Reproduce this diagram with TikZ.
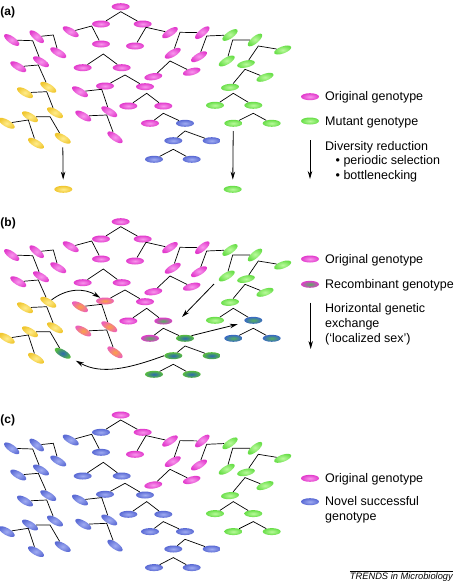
\documentclass[tikz,border=0pt]{standalone}
\usepackage{fontspec}
\setmainfont{Liberation Sans}
\usetikzlibrary{shapes.geometric, arrows.meta}

\definecolor{pinkO}{RGB}{226,58,204}
\definecolor{pinkI}{RGB}{248,150,236}
\definecolor{greenO}{RGB}{104,222,72}
\definecolor{greenI}{RGB}{186,250,156}
\definecolor{yellowO}{RGB}{240,198,46}
\definecolor{yellowI}{RGB}{255,236,140}
\definecolor{blueO}{RGB}{90,106,212}
\definecolor{blueI}{RGB}{160,172,242}
\definecolor{recO}{RGB}{250,162,72}
\definecolor{recP}{RGB}{236,96,186}
\definecolor{recG}{RGB}{86,176,96}
\definecolor{recB}{RGB}{44,104,176}
\definecolor{recBO}{RGB}{56,104,196}

\tikzset{
  geno/.style={ellipse, minimum width=18pt, minimum height=7pt, inner sep=0pt},
  pk/.style={shade, inner color=pinkI, outer color=pinkO},
  gr/.style={shade, inner color=greenI, outer color=greenO},
  yl/.style={shade, inner color=yellowI, outer color=yellowO},
  bl/.style={shade, inner color=blueI, outer color=blueO},
  po/.style={shade, inner color=recO, outer color=recP},
  pg/.style={shade, inner color=recG, outer color=pinkO},
  gb/.style={shade, inner color=recB, outer color=greenO!85!black},
  bg/.style={shade, inner color=recG, outer color=recBO},
  link/.style={line width=0.7pt},
  arr/.style={-{Stealth[length=8pt,width=4.5pt]}, line width=0.8pt},
  legend/.style={anchor=base west, inner sep=0pt, font=\fontsize{12.5}{14.7}\selectfont},
  panel/.style={anchor=base west, inner sep=0pt, font=\fontsize{12}{14}\selectfont\bfseries},
}

% one genealogy; colours come from the classes cA..cI of the panel
\newcommand{\genotree}[1]{%
  \foreach \n/\x/\y/\r/\k in {
      1/120.7/6.7/0/A, 2/101/24/0/B, 3/142.7/24/0/A, 4/70.7/31.7/-30/B,
      5/101/44/0/B, 6/135/46/0/A, 7/170/32.7/32/A, 8/11.7/40/-35/B,
      9/36.7/36.7/-40/B, 10/58.3/52.7/-30/B, 11/18.3/66.7/-30/B, 12/41/61.7/-30/B,
      13/48.3/87.3/-30/C, 14/25/92.7/-30/C, 15/55/112.7/-30/C, 16/6.7/123.3/-30/C,
      17/30/116.7/-30/C, 18/36/143.3/-30/C, 19/62.7/138.3/-30/D,
      20/82.7/67.7/0/B, 21/121.7/67.7/0/B, 22/80/91.7/-30/E, 23/105/86/0/E,
      24/145/86.7/0/B, 25/109.3/111.7/-30/E, 26/83.3/116/-30/E, 27/115/137.3/-35/E,
      28/128.3/106/0/B, 29/163.3/106/0/F, 30/150/123.3/0/F, 31/185/123.3/0/G,
      32/173.3/140.7/0/G, 33/211.7/140.7/0/G, 34/154/159.3/0/G, 35/191.7/159.3/0/G,
      36/172.7/53.3/30/A, 37/199/56.7/30/A, 38/202.3/32.7/40/A, 39/153.3/76.7/8/A,
      40/191.7/71.7/15/A, 41/230/35/35/H, 42/255/40/40/H, 43/282.7/50/20/H,
      44/226.7/61/30/H, 45/246/64/12/H, 46/265/77.3/20/H, 47/230/87.3/5/H,
      48/215/105.3/0/H, 49/253.3/105.3/0/I, 50/233.3/123.3/0/I, 51/271.7/123.3/0/I}
    \node[geno, rotate=\r, c\k] (#1\n) at (\x,\y) {};
  \foreach \u/\jx/\jy/\v in {
      2/120.7/11.7/3, 4/91.7/26/5, 7/146/27.3/6, 20/103.3/54/21,
      23/125/75/24, 22/101.7/89.3/25, 26/106.7/115/27, 28/146.7/93.3/29,
      30/163.3/113.3/31, 32/185/131/33, 34/173.3/149.3/35,
      8/32.7/40.7/12, 9/53.3/35/10, 11/38.3/65/13, 14/46.7/91.7/15,
      17/50/116.7/19, 16/28.3/120/18,
      38/180/32.3/36, 41/206.7/36/37, 39/170/61/40,
      42/232.7/40/44, 43/258.3/46/45, 46/245/69.3/47, 48/233.3/93.3/49,
      50/253.3/113.3/51}
    \draw[link] (#1\u) -- (\jx,\jy) -- (#1\v);
}

\begin{document}
\begin{tikzpicture}[x=1pt, y=-1pt]
\path[fill=white] (0,0) rectangle (454,581);
\useasboundingbox (0,0) rectangle (454,581);

% (a) diversity reduction
\node[panel] (la) at (0.3,15) {(a)};
\begin{scope}[cA/.style=pk, cB/.style=pk, cC/.style=yl, cD/.style=yl, cE/.style=pk,
              cF/.style=pk, cG/.style=bl, cH/.style=gr, cI/.style=gr]
  \genotree{a}
\end{scope}
\node[geno, yl] (ayel) at (63.3,189.3) {};
\node[geno, gr] (agrn) at (232.7,189.3) {};
\draw[arr, shorten <=5pt, shorten >=6pt] (a19) -- (ayel);
\draw[arr, shorten <=4pt, shorten >=6pt] (a50) -- (agrn);

\node[geno, pk] (ka1) at (310,96.7) {};
\node[legend] (ta1) at (325,100.7) {Original genotype};
\node[geno, gr] (ka2) at (310,121) {};
\node[legend] (ta2) at (325,125) {Mutant genotype};
\coordinate (sa1) at (310,140);
\coordinate (sa2) at (310,179);
\draw[arr] (sa1) -- (sa2);
\node[legend] (ta3) at (325,150) {Diversity reduction};
\node[legend] (ta4) at (335.5,164.7) {\textbullet\ periodic selection};
\node[legend] (ta5) at (335.5,179.4) {\textbullet\ bottlenecking};

% (b) horizontal exchange
\node[panel] (lb) at (0.3,226) {(b)};
\begin{scope}[shift={(0,215)}, cA/.style=pk, cB/.style=pk, cC/.style=yl, cD/.style=gb,
              cE/.style=po, cF/.style=pg, cG/.style=gb, cH/.style=gr, cI/.style=bg]
  \genotree{b}
\end{scope}
\draw[arr] (b13) to[bend left=35] (b23);
\coordinate (bx1) at (214,284);
\coordinate (bx2) at (182,317);
\draw[arr] (bx1) -- (bx2);
\draw[arr, shorten >=8pt] (b31.north east) -- (b49);
\draw[arr, shorten >=6pt] (b32.west) to[out=200, in=-25] (b19);

\node[geno, pk] (kb1) at (310,259) {};
\node[legend] (tb1) at (325,263) {Original genotype};
\node[geno, pg] (kb2) at (310,284.3) {};
\node[legend] (tb2) at (325,288.3) {Recombinant genotype};
\coordinate (sb1) at (310.7,302.7);
\coordinate (sb2) at (310.7,349);
\draw[arr] (sb1) -- (sb2);
\node[legend] (tb3) at (325,312.7) {Horizontal genetic};
\node[legend] (tb4) at (325,327.3) {exchange};
\node[legend] (tb5) at (325,342) {(`localized sex')};

% (c) novel successful genotype
\node[panel] (lc) at (0.3,423) {(c)};
\begin{scope}[shift={(0,408.3)}, cA/.style=pk, cB/.style=bl, cC/.style=bl, cD/.style=bl,
              cE/.style=bl, cF/.style=bl, cG/.style=bl, cH/.style=gr, cI/.style=gr]
  \genotree{c}
\end{scope}
\node[geno, pk] (kc1) at (310,478.3) {};
\node[legend] (tc1) at (325,482.3) {Original genotype};
\node[geno, bl] (kc2) at (310,501.7) {};
\node[legend] (tc2) at (325,505.7) {Novel successful};
\node[legend] (tc3) at (325,520.2) {genotype};

\node[anchor=base east, inner sep=0pt, font=\fontsize{9.3}{11}\selectfont\itshape] (trend) at (453,579.5) {TRENDS in Microbiology};
\draw[line width=0.4pt] ([yshift=1.5pt]trend.north west) -- ([yshift=1.5pt]trend.north east);
\end{tikzpicture}
\end{document}
